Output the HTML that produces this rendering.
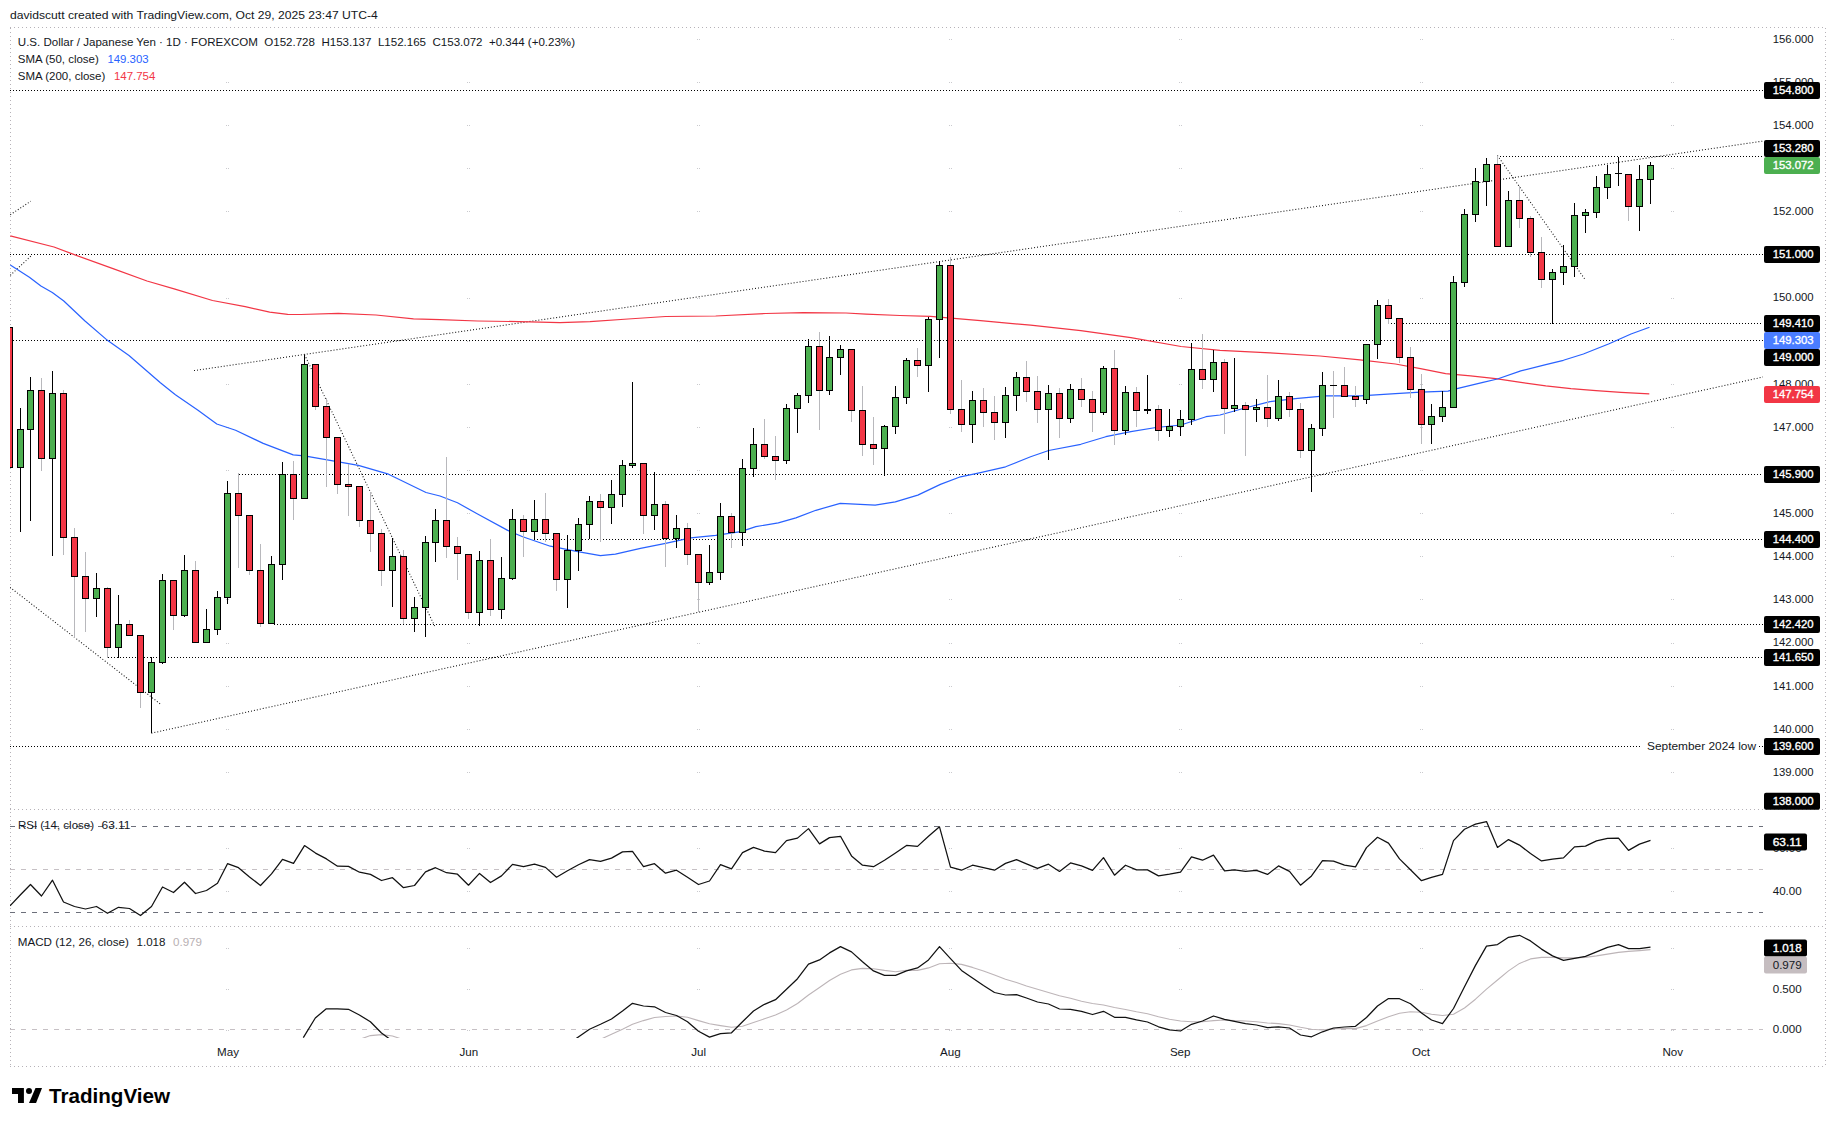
<!DOCTYPE html>
<html><head><meta charset="utf-8"><title>USDJPY chart</title>
<style>html,body{margin:0;padding:0;background:#fff;}body{width:1835px;height:1126px;overflow:hidden;font-family:"Liberation Sans",sans-serif;}</style>
</head><body>
<svg width="1835" height="1126" viewBox="0 0 1835 1126" style="display:block">
<rect width="1835" height="1126" fill="#ffffff"/>
<defs>
<clipPath id="cpMain"><rect x="10" y="28" width="1753" height="781"/></clipPath>
<clipPath id="cpRsi"><rect x="10" y="810" width="1753" height="116"/></clipPath>
<clipPath id="cpMacd"><rect x="10" y="927" width="1753" height="111"/></clipPath>
</defs>
<g fill="none" stroke="#b6b2b8" stroke-width="1" stroke-dasharray="1 3" shape-rendering="crispEdges">
<path d="M10 27.5H1825.5"/>
<path d="M10 1066.5H1825.5"/>
<path d="M10 809.5H1825"/>
<path d="M10 926.5H1825"/>
<path d="M10.5 28V1066.5"/>
<path d="M1825.5 28V1066.5"/>
</g>
<g fill="#cacace" shape-rendering="crispEdges">
<rect x="226" y="772" width="1" height="1"/><rect x="228" y="772" width="1" height="1"/>
<rect x="226" y="729" width="1" height="1"/><rect x="228" y="729" width="1" height="1"/>
<rect x="226" y="686" width="1" height="1"/><rect x="228" y="686" width="1" height="1"/>
<rect x="226" y="643" width="1" height="1"/><rect x="228" y="643" width="1" height="1"/>
<rect x="226" y="599" width="1" height="1"/><rect x="228" y="599" width="1" height="1"/>
<rect x="226" y="556" width="1" height="1"/><rect x="228" y="556" width="1" height="1"/>
<rect x="226" y="513" width="1" height="1"/><rect x="228" y="513" width="1" height="1"/>
<rect x="226" y="470" width="1" height="1"/><rect x="228" y="470" width="1" height="1"/>
<rect x="226" y="427" width="1" height="1"/><rect x="228" y="427" width="1" height="1"/>
<rect x="226" y="384" width="1" height="1"/><rect x="228" y="384" width="1" height="1"/>
<rect x="226" y="341" width="1" height="1"/><rect x="228" y="341" width="1" height="1"/>
<rect x="226" y="298" width="1" height="1"/><rect x="228" y="298" width="1" height="1"/>
<rect x="226" y="254" width="1" height="1"/><rect x="228" y="254" width="1" height="1"/>
<rect x="226" y="211" width="1" height="1"/><rect x="228" y="211" width="1" height="1"/>
<rect x="226" y="168" width="1" height="1"/><rect x="228" y="168" width="1" height="1"/>
<rect x="226" y="125" width="1" height="1"/><rect x="228" y="125" width="1" height="1"/>
<rect x="226" y="82" width="1" height="1"/><rect x="228" y="82" width="1" height="1"/>
<rect x="226" y="39" width="1" height="1"/><rect x="228" y="39" width="1" height="1"/>
<rect x="226" y="848" width="1" height="1"/><rect x="228" y="848" width="1" height="1"/>
<rect x="226" y="891" width="1" height="1"/><rect x="228" y="891" width="1" height="1"/>
<rect x="226" y="948" width="1" height="1"/><rect x="228" y="948" width="1" height="1"/>
<rect x="226" y="989" width="1" height="1"/><rect x="228" y="989" width="1" height="1"/>
<rect x="226" y="1030" width="1" height="1"/><rect x="228" y="1030" width="1" height="1"/>
<rect x="467" y="772" width="1" height="1"/><rect x="469" y="772" width="1" height="1"/>
<rect x="467" y="729" width="1" height="1"/><rect x="469" y="729" width="1" height="1"/>
<rect x="467" y="686" width="1" height="1"/><rect x="469" y="686" width="1" height="1"/>
<rect x="467" y="643" width="1" height="1"/><rect x="469" y="643" width="1" height="1"/>
<rect x="467" y="599" width="1" height="1"/><rect x="469" y="599" width="1" height="1"/>
<rect x="467" y="556" width="1" height="1"/><rect x="469" y="556" width="1" height="1"/>
<rect x="467" y="513" width="1" height="1"/><rect x="469" y="513" width="1" height="1"/>
<rect x="467" y="470" width="1" height="1"/><rect x="469" y="470" width="1" height="1"/>
<rect x="467" y="427" width="1" height="1"/><rect x="469" y="427" width="1" height="1"/>
<rect x="467" y="384" width="1" height="1"/><rect x="469" y="384" width="1" height="1"/>
<rect x="467" y="341" width="1" height="1"/><rect x="469" y="341" width="1" height="1"/>
<rect x="467" y="298" width="1" height="1"/><rect x="469" y="298" width="1" height="1"/>
<rect x="467" y="254" width="1" height="1"/><rect x="469" y="254" width="1" height="1"/>
<rect x="467" y="211" width="1" height="1"/><rect x="469" y="211" width="1" height="1"/>
<rect x="467" y="168" width="1" height="1"/><rect x="469" y="168" width="1" height="1"/>
<rect x="467" y="125" width="1" height="1"/><rect x="469" y="125" width="1" height="1"/>
<rect x="467" y="82" width="1" height="1"/><rect x="469" y="82" width="1" height="1"/>
<rect x="467" y="39" width="1" height="1"/><rect x="469" y="39" width="1" height="1"/>
<rect x="467" y="848" width="1" height="1"/><rect x="469" y="848" width="1" height="1"/>
<rect x="467" y="891" width="1" height="1"/><rect x="469" y="891" width="1" height="1"/>
<rect x="467" y="948" width="1" height="1"/><rect x="469" y="948" width="1" height="1"/>
<rect x="467" y="989" width="1" height="1"/><rect x="469" y="989" width="1" height="1"/>
<rect x="467" y="1030" width="1" height="1"/><rect x="469" y="1030" width="1" height="1"/>
<rect x="697" y="772" width="1" height="1"/><rect x="699" y="772" width="1" height="1"/>
<rect x="697" y="729" width="1" height="1"/><rect x="699" y="729" width="1" height="1"/>
<rect x="697" y="686" width="1" height="1"/><rect x="699" y="686" width="1" height="1"/>
<rect x="697" y="643" width="1" height="1"/><rect x="699" y="643" width="1" height="1"/>
<rect x="697" y="599" width="1" height="1"/><rect x="699" y="599" width="1" height="1"/>
<rect x="697" y="556" width="1" height="1"/><rect x="699" y="556" width="1" height="1"/>
<rect x="697" y="513" width="1" height="1"/><rect x="699" y="513" width="1" height="1"/>
<rect x="697" y="470" width="1" height="1"/><rect x="699" y="470" width="1" height="1"/>
<rect x="697" y="427" width="1" height="1"/><rect x="699" y="427" width="1" height="1"/>
<rect x="697" y="384" width="1" height="1"/><rect x="699" y="384" width="1" height="1"/>
<rect x="697" y="341" width="1" height="1"/><rect x="699" y="341" width="1" height="1"/>
<rect x="697" y="298" width="1" height="1"/><rect x="699" y="298" width="1" height="1"/>
<rect x="697" y="254" width="1" height="1"/><rect x="699" y="254" width="1" height="1"/>
<rect x="697" y="211" width="1" height="1"/><rect x="699" y="211" width="1" height="1"/>
<rect x="697" y="168" width="1" height="1"/><rect x="699" y="168" width="1" height="1"/>
<rect x="697" y="125" width="1" height="1"/><rect x="699" y="125" width="1" height="1"/>
<rect x="697" y="82" width="1" height="1"/><rect x="699" y="82" width="1" height="1"/>
<rect x="697" y="39" width="1" height="1"/><rect x="699" y="39" width="1" height="1"/>
<rect x="697" y="848" width="1" height="1"/><rect x="699" y="848" width="1" height="1"/>
<rect x="697" y="891" width="1" height="1"/><rect x="699" y="891" width="1" height="1"/>
<rect x="697" y="948" width="1" height="1"/><rect x="699" y="948" width="1" height="1"/>
<rect x="697" y="989" width="1" height="1"/><rect x="699" y="989" width="1" height="1"/>
<rect x="697" y="1030" width="1" height="1"/><rect x="699" y="1030" width="1" height="1"/>
<rect x="949" y="772" width="1" height="1"/><rect x="951" y="772" width="1" height="1"/>
<rect x="949" y="729" width="1" height="1"/><rect x="951" y="729" width="1" height="1"/>
<rect x="949" y="686" width="1" height="1"/><rect x="951" y="686" width="1" height="1"/>
<rect x="949" y="643" width="1" height="1"/><rect x="951" y="643" width="1" height="1"/>
<rect x="949" y="599" width="1" height="1"/><rect x="951" y="599" width="1" height="1"/>
<rect x="949" y="556" width="1" height="1"/><rect x="951" y="556" width="1" height="1"/>
<rect x="949" y="513" width="1" height="1"/><rect x="951" y="513" width="1" height="1"/>
<rect x="949" y="470" width="1" height="1"/><rect x="951" y="470" width="1" height="1"/>
<rect x="949" y="427" width="1" height="1"/><rect x="951" y="427" width="1" height="1"/>
<rect x="949" y="384" width="1" height="1"/><rect x="951" y="384" width="1" height="1"/>
<rect x="949" y="341" width="1" height="1"/><rect x="951" y="341" width="1" height="1"/>
<rect x="949" y="298" width="1" height="1"/><rect x="951" y="298" width="1" height="1"/>
<rect x="949" y="254" width="1" height="1"/><rect x="951" y="254" width="1" height="1"/>
<rect x="949" y="211" width="1" height="1"/><rect x="951" y="211" width="1" height="1"/>
<rect x="949" y="168" width="1" height="1"/><rect x="951" y="168" width="1" height="1"/>
<rect x="949" y="125" width="1" height="1"/><rect x="951" y="125" width="1" height="1"/>
<rect x="949" y="82" width="1" height="1"/><rect x="951" y="82" width="1" height="1"/>
<rect x="949" y="39" width="1" height="1"/><rect x="951" y="39" width="1" height="1"/>
<rect x="949" y="848" width="1" height="1"/><rect x="951" y="848" width="1" height="1"/>
<rect x="949" y="891" width="1" height="1"/><rect x="951" y="891" width="1" height="1"/>
<rect x="949" y="948" width="1" height="1"/><rect x="951" y="948" width="1" height="1"/>
<rect x="949" y="989" width="1" height="1"/><rect x="951" y="989" width="1" height="1"/>
<rect x="949" y="1030" width="1" height="1"/><rect x="951" y="1030" width="1" height="1"/>
<rect x="1179" y="772" width="1" height="1"/><rect x="1181" y="772" width="1" height="1"/>
<rect x="1179" y="729" width="1" height="1"/><rect x="1181" y="729" width="1" height="1"/>
<rect x="1179" y="686" width="1" height="1"/><rect x="1181" y="686" width="1" height="1"/>
<rect x="1179" y="643" width="1" height="1"/><rect x="1181" y="643" width="1" height="1"/>
<rect x="1179" y="599" width="1" height="1"/><rect x="1181" y="599" width="1" height="1"/>
<rect x="1179" y="556" width="1" height="1"/><rect x="1181" y="556" width="1" height="1"/>
<rect x="1179" y="513" width="1" height="1"/><rect x="1181" y="513" width="1" height="1"/>
<rect x="1179" y="470" width="1" height="1"/><rect x="1181" y="470" width="1" height="1"/>
<rect x="1179" y="427" width="1" height="1"/><rect x="1181" y="427" width="1" height="1"/>
<rect x="1179" y="384" width="1" height="1"/><rect x="1181" y="384" width="1" height="1"/>
<rect x="1179" y="341" width="1" height="1"/><rect x="1181" y="341" width="1" height="1"/>
<rect x="1179" y="298" width="1" height="1"/><rect x="1181" y="298" width="1" height="1"/>
<rect x="1179" y="254" width="1" height="1"/><rect x="1181" y="254" width="1" height="1"/>
<rect x="1179" y="211" width="1" height="1"/><rect x="1181" y="211" width="1" height="1"/>
<rect x="1179" y="168" width="1" height="1"/><rect x="1181" y="168" width="1" height="1"/>
<rect x="1179" y="125" width="1" height="1"/><rect x="1181" y="125" width="1" height="1"/>
<rect x="1179" y="82" width="1" height="1"/><rect x="1181" y="82" width="1" height="1"/>
<rect x="1179" y="39" width="1" height="1"/><rect x="1181" y="39" width="1" height="1"/>
<rect x="1179" y="848" width="1" height="1"/><rect x="1181" y="848" width="1" height="1"/>
<rect x="1179" y="891" width="1" height="1"/><rect x="1181" y="891" width="1" height="1"/>
<rect x="1179" y="948" width="1" height="1"/><rect x="1181" y="948" width="1" height="1"/>
<rect x="1179" y="989" width="1" height="1"/><rect x="1181" y="989" width="1" height="1"/>
<rect x="1179" y="1030" width="1" height="1"/><rect x="1181" y="1030" width="1" height="1"/>
<rect x="1420" y="772" width="1" height="1"/><rect x="1422" y="772" width="1" height="1"/>
<rect x="1420" y="729" width="1" height="1"/><rect x="1422" y="729" width="1" height="1"/>
<rect x="1420" y="686" width="1" height="1"/><rect x="1422" y="686" width="1" height="1"/>
<rect x="1420" y="643" width="1" height="1"/><rect x="1422" y="643" width="1" height="1"/>
<rect x="1420" y="599" width="1" height="1"/><rect x="1422" y="599" width="1" height="1"/>
<rect x="1420" y="556" width="1" height="1"/><rect x="1422" y="556" width="1" height="1"/>
<rect x="1420" y="513" width="1" height="1"/><rect x="1422" y="513" width="1" height="1"/>
<rect x="1420" y="470" width="1" height="1"/><rect x="1422" y="470" width="1" height="1"/>
<rect x="1420" y="427" width="1" height="1"/><rect x="1422" y="427" width="1" height="1"/>
<rect x="1420" y="384" width="1" height="1"/><rect x="1422" y="384" width="1" height="1"/>
<rect x="1420" y="341" width="1" height="1"/><rect x="1422" y="341" width="1" height="1"/>
<rect x="1420" y="298" width="1" height="1"/><rect x="1422" y="298" width="1" height="1"/>
<rect x="1420" y="254" width="1" height="1"/><rect x="1422" y="254" width="1" height="1"/>
<rect x="1420" y="211" width="1" height="1"/><rect x="1422" y="211" width="1" height="1"/>
<rect x="1420" y="168" width="1" height="1"/><rect x="1422" y="168" width="1" height="1"/>
<rect x="1420" y="125" width="1" height="1"/><rect x="1422" y="125" width="1" height="1"/>
<rect x="1420" y="82" width="1" height="1"/><rect x="1422" y="82" width="1" height="1"/>
<rect x="1420" y="39" width="1" height="1"/><rect x="1422" y="39" width="1" height="1"/>
<rect x="1420" y="848" width="1" height="1"/><rect x="1422" y="848" width="1" height="1"/>
<rect x="1420" y="891" width="1" height="1"/><rect x="1422" y="891" width="1" height="1"/>
<rect x="1420" y="948" width="1" height="1"/><rect x="1422" y="948" width="1" height="1"/>
<rect x="1420" y="989" width="1" height="1"/><rect x="1422" y="989" width="1" height="1"/>
<rect x="1420" y="1030" width="1" height="1"/><rect x="1422" y="1030" width="1" height="1"/>
<rect x="1671" y="772" width="1" height="1"/><rect x="1673" y="772" width="1" height="1"/>
<rect x="1671" y="729" width="1" height="1"/><rect x="1673" y="729" width="1" height="1"/>
<rect x="1671" y="686" width="1" height="1"/><rect x="1673" y="686" width="1" height="1"/>
<rect x="1671" y="643" width="1" height="1"/><rect x="1673" y="643" width="1" height="1"/>
<rect x="1671" y="599" width="1" height="1"/><rect x="1673" y="599" width="1" height="1"/>
<rect x="1671" y="556" width="1" height="1"/><rect x="1673" y="556" width="1" height="1"/>
<rect x="1671" y="513" width="1" height="1"/><rect x="1673" y="513" width="1" height="1"/>
<rect x="1671" y="470" width="1" height="1"/><rect x="1673" y="470" width="1" height="1"/>
<rect x="1671" y="427" width="1" height="1"/><rect x="1673" y="427" width="1" height="1"/>
<rect x="1671" y="384" width="1" height="1"/><rect x="1673" y="384" width="1" height="1"/>
<rect x="1671" y="341" width="1" height="1"/><rect x="1673" y="341" width="1" height="1"/>
<rect x="1671" y="298" width="1" height="1"/><rect x="1673" y="298" width="1" height="1"/>
<rect x="1671" y="254" width="1" height="1"/><rect x="1673" y="254" width="1" height="1"/>
<rect x="1671" y="211" width="1" height="1"/><rect x="1673" y="211" width="1" height="1"/>
<rect x="1671" y="168" width="1" height="1"/><rect x="1673" y="168" width="1" height="1"/>
<rect x="1671" y="125" width="1" height="1"/><rect x="1673" y="125" width="1" height="1"/>
<rect x="1671" y="82" width="1" height="1"/><rect x="1673" y="82" width="1" height="1"/>
<rect x="1671" y="39" width="1" height="1"/><rect x="1673" y="39" width="1" height="1"/>
<rect x="1671" y="848" width="1" height="1"/><rect x="1673" y="848" width="1" height="1"/>
<rect x="1671" y="891" width="1" height="1"/><rect x="1673" y="891" width="1" height="1"/>
<rect x="1671" y="948" width="1" height="1"/><rect x="1673" y="948" width="1" height="1"/>
<rect x="1671" y="989" width="1" height="1"/><rect x="1673" y="989" width="1" height="1"/>
<rect x="1671" y="1030" width="1" height="1"/><rect x="1673" y="1030" width="1" height="1"/>
</g>
<g clip-path="url(#cpMain)">
<g fill="none" stroke="#000" stroke-width="1" stroke-dasharray="1 2" shape-rendering="crispEdges">
<path d="M10 90.5H1763"/>
<path d="M1497 156.5H1763"/>
<path d="M10 254.5H1763"/>
<path d="M1388 323.5H1763"/>
<path d="M10 340.5H1763"/>
<path d="M239 474.5H1763"/>
<path d="M534 539.5H1763"/>
<path d="M274 624.5H1763"/>
<path d="M108 657.5H1763"/>
<path d="M10 746.5H1642"/>
<path d="M1759 746.5H1763"/>
</g>
<g fill="none" stroke="#111" stroke-width="1.05" stroke-dasharray="1 2">
<path d="M194 370.6L1763 141.1"/>
<path d="M151.4 733.2L1763 377.0"/>
<path d="M10 587.3L161.6 705"/>
<path d="M304.5 354.6L435.3 627.4"/>
<path d="M1497.4 155.5L1584.7 279"/>
<path d="M10.3 214.7L30.7 201.3"/>
<path d="M10.3 275.3L31 256"/>
</g>
<path d="M10.3 235.9L54.0 247.0L73.6 254.4L114.4 269.1L147.0 281.0L175.0 289.2L212.5 300.5L245.2 306.7L269.7 312.1L287.7 314.4L300.8 314.5L338.3 313.3L376.0 315.0L413.5 318.8L440.0 319.7L477.6 321.0L530.0 321.8L560.0 322.7L590.0 321.7L628.0 319.0L665.6 316.5L715.7 316.0L765.8 313.5L803.4 312.7L846.0 313.0L866.0 314.2L900.0 315.5L930.4 316.4L980.5 320.7L1030.6 325.2L1080.8 330.7L1130.9 337.7L1181.0 346.5L1220.0 350.3L1270.0 352.8L1320.0 356.0L1360.0 359.8L1395.4 364.0L1420.5 368.6L1445.6 373.6L1470.6 375.9L1495.7 378.6L1520.8 382.4L1545.8 385.9L1570.9 388.6L1596.0 390.6L1621.0 392.4L1649.3 393.9" fill="none" stroke="#f23645" stroke-width="1.2" stroke-linejoin="round"/>
<path d="M10.3 265.0L29.4 277.3L40.9 286.0L52.3 292.5L63.8 301.0L85.0 321.0L106.3 339.4L129.0 355.5L160.4 382.7L175.4 394.7L198.0 410.3L216.8 424.0L235.6 430.3L263.2 443.4L293.2 454.9L304.3 455.9L325.8 459.6L358.4 465.4L388.5 474.2L426.0 492.5L440.0 496.0L457.5 502.8L477.6 514.0L507.7 530.4L522.7 536.7L550.3 546.2L577.8 551.7L600.4 555.7L615.4 554.2L640.5 548.4L665.6 543.4L690.6 537.9L715.7 535.4L740.8 531.6L755.8 526.6L778.3 522.9L795.9 517.9L815.9 510.3L840.2 503.4L875.2 505.2L895.3 501.9L917.8 495.1L940.4 484.4L960.5 476.8L980.5 472.6L1005.6 466.8L1030.6 456.8L1048.7 450.5L1080.8 444.3L1105.8 436.7L1130.9 431.7L1156.0 427.5L1181.0 425.0L1206.0 416.7L1220.0 415.0L1245.0 408.0L1270.0 401.7L1295.2 398.7L1325.3 395.9L1360.4 395.9L1395.4 393.7L1420.5 392.2L1448.0 391.2L1458.0 388.4L1483.0 382.4L1497.4 379.0L1520.8 370.9L1545.8 364.6L1563.4 360.3L1583.4 354.0L1608.5 344.0L1631.0 334.0L1649.5 327.2" fill="none" stroke="#2962ff" stroke-width="1.2" stroke-linejoin="round"/>
<g shape-rendering="crispEdges">
<rect x="6" y="327" width="7" height="141" fill="#000"/>
<rect x="7" y="328" width="5" height="139" fill="#f23645"/>
<rect x="20" y="408" width="1" height="21" fill="#000"/>
<rect x="20" y="467" width="1" height="65" fill="#000"/>
<rect x="17" y="429" width="7" height="39" fill="#000"/>
<rect x="18" y="430" width="5" height="37" fill="#4caf50"/>
<rect x="30" y="377" width="1" height="13" fill="#000"/>
<rect x="30" y="429" width="1" height="92" fill="#000"/>
<rect x="27" y="390" width="7" height="40" fill="#000"/>
<rect x="28" y="391" width="5" height="38" fill="#4caf50"/>
<rect x="41" y="378" width="1" height="12" fill="#b8b8bc"/>
<rect x="41" y="458" width="1" height="13" fill="#b8b8bc"/>
<rect x="38" y="390" width="7" height="69" fill="#000"/>
<rect x="39" y="391" width="5" height="67" fill="#f23645"/>
<rect x="52" y="371" width="1" height="22" fill="#000"/>
<rect x="52" y="458" width="1" height="98" fill="#000"/>
<rect x="49" y="393" width="7" height="66" fill="#000"/>
<rect x="50" y="394" width="5" height="64" fill="#4caf50"/>
<rect x="63" y="390" width="1" height="3" fill="#b8b8bc"/>
<rect x="63" y="537" width="1" height="18" fill="#b8b8bc"/>
<rect x="60" y="393" width="7" height="145" fill="#000"/>
<rect x="61" y="394" width="5" height="143" fill="#f23645"/>
<rect x="74" y="528" width="1" height="9" fill="#b8b8bc"/>
<rect x="74" y="576" width="1" height="62" fill="#b8b8bc"/>
<rect x="71" y="537" width="7" height="40" fill="#000"/>
<rect x="72" y="538" width="5" height="38" fill="#f23645"/>
<rect x="85" y="552" width="1" height="24" fill="#b8b8bc"/>
<rect x="85" y="598" width="1" height="34" fill="#b8b8bc"/>
<rect x="82" y="576" width="7" height="23" fill="#000"/>
<rect x="83" y="577" width="5" height="21" fill="#f23645"/>
<rect x="96" y="573" width="1" height="15" fill="#000"/>
<rect x="96" y="598" width="1" height="19" fill="#000"/>
<rect x="93" y="588" width="7" height="11" fill="#000"/>
<rect x="94" y="589" width="5" height="9" fill="#4caf50"/>
<rect x="107" y="587" width="1" height="1" fill="#b8b8bc"/>
<rect x="107" y="647" width="1" height="11" fill="#b8b8bc"/>
<rect x="104" y="588" width="7" height="60" fill="#000"/>
<rect x="105" y="589" width="5" height="58" fill="#f23645"/>
<rect x="118" y="595" width="1" height="29" fill="#000"/>
<rect x="118" y="647" width="1" height="11" fill="#000"/>
<rect x="115" y="624" width="7" height="24" fill="#000"/>
<rect x="116" y="625" width="5" height="22" fill="#4caf50"/>
<rect x="129" y="620" width="1" height="4" fill="#b8b8bc"/>
<rect x="126" y="624" width="7" height="12" fill="#000"/>
<rect x="127" y="625" width="5" height="10" fill="#f23645"/>
<rect x="140" y="692" width="1" height="16" fill="#b8b8bc"/>
<rect x="137" y="635" width="7" height="58" fill="#000"/>
<rect x="138" y="636" width="5" height="56" fill="#f23645"/>
<rect x="151" y="657" width="1" height="5" fill="#000"/>
<rect x="151" y="692" width="1" height="41" fill="#000"/>
<rect x="148" y="662" width="7" height="31" fill="#000"/>
<rect x="149" y="663" width="5" height="29" fill="#4caf50"/>
<rect x="162" y="574" width="1" height="6" fill="#000"/>
<rect x="162" y="662" width="1" height="2" fill="#000"/>
<rect x="159" y="580" width="7" height="83" fill="#000"/>
<rect x="160" y="581" width="5" height="81" fill="#4caf50"/>
<rect x="173" y="615" width="1" height="15" fill="#b8b8bc"/>
<rect x="170" y="580" width="7" height="36" fill="#000"/>
<rect x="171" y="581" width="5" height="34" fill="#f23645"/>
<rect x="184" y="555" width="1" height="15" fill="#000"/>
<rect x="184" y="615" width="1" height="2" fill="#000"/>
<rect x="181" y="570" width="7" height="46" fill="#000"/>
<rect x="182" y="571" width="5" height="44" fill="#4caf50"/>
<rect x="195" y="561" width="1" height="9" fill="#b8b8bc"/>
<rect x="192" y="570" width="7" height="73" fill="#000"/>
<rect x="193" y="571" width="5" height="71" fill="#f23645"/>
<rect x="206" y="609" width="1" height="20" fill="#000"/>
<rect x="206" y="642" width="1" height="1" fill="#000"/>
<rect x="203" y="629" width="7" height="14" fill="#000"/>
<rect x="204" y="630" width="5" height="12" fill="#4caf50"/>
<rect x="217" y="591" width="1" height="6" fill="#000"/>
<rect x="217" y="629" width="1" height="6" fill="#000"/>
<rect x="214" y="597" width="7" height="33" fill="#000"/>
<rect x="215" y="598" width="5" height="31" fill="#4caf50"/>
<rect x="227" y="481" width="1" height="12" fill="#000"/>
<rect x="227" y="597" width="1" height="7" fill="#000"/>
<rect x="224" y="493" width="7" height="105" fill="#000"/>
<rect x="225" y="494" width="5" height="103" fill="#4caf50"/>
<rect x="238" y="473" width="1" height="20" fill="#b8b8bc"/>
<rect x="238" y="515" width="1" height="53" fill="#b8b8bc"/>
<rect x="235" y="493" width="7" height="23" fill="#000"/>
<rect x="236" y="494" width="5" height="21" fill="#f23645"/>
<rect x="249" y="570" width="1" height="5" fill="#b8b8bc"/>
<rect x="246" y="515" width="7" height="56" fill="#000"/>
<rect x="247" y="516" width="5" height="54" fill="#f23645"/>
<rect x="260" y="544" width="1" height="26" fill="#b8b8bc"/>
<rect x="260" y="623" width="1" height="4" fill="#b8b8bc"/>
<rect x="257" y="570" width="7" height="54" fill="#000"/>
<rect x="258" y="571" width="5" height="52" fill="#f23645"/>
<rect x="271" y="556" width="1" height="8" fill="#000"/>
<rect x="268" y="564" width="7" height="60" fill="#000"/>
<rect x="269" y="565" width="5" height="58" fill="#4caf50"/>
<rect x="282" y="462" width="1" height="12" fill="#000"/>
<rect x="282" y="564" width="1" height="16" fill="#000"/>
<rect x="279" y="474" width="7" height="91" fill="#000"/>
<rect x="280" y="475" width="5" height="89" fill="#4caf50"/>
<rect x="293" y="461" width="1" height="13" fill="#b8b8bc"/>
<rect x="293" y="498" width="1" height="22" fill="#b8b8bc"/>
<rect x="290" y="474" width="7" height="25" fill="#000"/>
<rect x="291" y="475" width="5" height="23" fill="#f23645"/>
<rect x="304" y="355" width="1" height="9" fill="#000"/>
<rect x="301" y="364" width="7" height="135" fill="#000"/>
<rect x="302" y="365" width="5" height="133" fill="#4caf50"/>
<rect x="315" y="406" width="1" height="4" fill="#b8b8bc"/>
<rect x="312" y="364" width="7" height="43" fill="#000"/>
<rect x="313" y="365" width="5" height="41" fill="#f23645"/>
<rect x="326" y="398" width="1" height="8" fill="#b8b8bc"/>
<rect x="326" y="437" width="1" height="50" fill="#b8b8bc"/>
<rect x="323" y="406" width="7" height="32" fill="#000"/>
<rect x="324" y="407" width="5" height="30" fill="#f23645"/>
<rect x="337" y="484" width="1" height="10" fill="#b8b8bc"/>
<rect x="334" y="437" width="7" height="48" fill="#000"/>
<rect x="335" y="438" width="5" height="46" fill="#f23645"/>
<rect x="348" y="464" width="1" height="20" fill="#b8b8bc"/>
<rect x="348" y="486" width="1" height="30" fill="#b8b8bc"/>
<rect x="345" y="484" width="7" height="3" fill="#000"/>
<rect x="346" y="485" width="5" height="1" fill="#f23645"/>
<rect x="359" y="520" width="1" height="7" fill="#b8b8bc"/>
<rect x="356" y="486" width="7" height="35" fill="#000"/>
<rect x="357" y="487" width="5" height="33" fill="#f23645"/>
<rect x="370" y="492" width="1" height="28" fill="#b8b8bc"/>
<rect x="370" y="533" width="1" height="19" fill="#b8b8bc"/>
<rect x="367" y="520" width="7" height="14" fill="#000"/>
<rect x="368" y="521" width="5" height="12" fill="#f23645"/>
<rect x="381" y="529" width="1" height="4" fill="#b8b8bc"/>
<rect x="381" y="570" width="1" height="16" fill="#b8b8bc"/>
<rect x="378" y="533" width="7" height="38" fill="#000"/>
<rect x="379" y="534" width="5" height="36" fill="#f23645"/>
<rect x="392" y="538" width="1" height="18" fill="#000"/>
<rect x="392" y="570" width="1" height="37" fill="#000"/>
<rect x="389" y="556" width="7" height="15" fill="#000"/>
<rect x="390" y="557" width="5" height="13" fill="#4caf50"/>
<rect x="403" y="550" width="1" height="6" fill="#b8b8bc"/>
<rect x="403" y="618" width="1" height="6" fill="#b8b8bc"/>
<rect x="400" y="556" width="7" height="63" fill="#000"/>
<rect x="401" y="557" width="5" height="61" fill="#f23645"/>
<rect x="414" y="597" width="1" height="10" fill="#000"/>
<rect x="414" y="618" width="1" height="14" fill="#000"/>
<rect x="411" y="607" width="7" height="12" fill="#000"/>
<rect x="412" y="608" width="5" height="10" fill="#4caf50"/>
<rect x="425" y="536" width="1" height="6" fill="#000"/>
<rect x="425" y="607" width="1" height="30" fill="#000"/>
<rect x="422" y="542" width="7" height="66" fill="#000"/>
<rect x="423" y="543" width="5" height="64" fill="#4caf50"/>
<rect x="435" y="509" width="1" height="11" fill="#000"/>
<rect x="435" y="542" width="1" height="20" fill="#000"/>
<rect x="432" y="520" width="7" height="23" fill="#000"/>
<rect x="433" y="521" width="5" height="21" fill="#4caf50"/>
<rect x="446" y="457" width="1" height="63" fill="#b8b8bc"/>
<rect x="446" y="546" width="1" height="12" fill="#b8b8bc"/>
<rect x="443" y="520" width="7" height="27" fill="#000"/>
<rect x="444" y="521" width="5" height="25" fill="#f23645"/>
<rect x="457" y="537" width="1" height="9" fill="#b8b8bc"/>
<rect x="457" y="553" width="1" height="27" fill="#b8b8bc"/>
<rect x="454" y="546" width="7" height="8" fill="#000"/>
<rect x="455" y="547" width="5" height="6" fill="#f23645"/>
<rect x="468" y="612" width="1" height="7" fill="#b8b8bc"/>
<rect x="465" y="554" width="7" height="59" fill="#000"/>
<rect x="466" y="555" width="5" height="57" fill="#f23645"/>
<rect x="479" y="551" width="1" height="9" fill="#000"/>
<rect x="479" y="612" width="1" height="14" fill="#000"/>
<rect x="476" y="560" width="7" height="53" fill="#000"/>
<rect x="477" y="561" width="5" height="51" fill="#4caf50"/>
<rect x="490" y="539" width="1" height="21" fill="#b8b8bc"/>
<rect x="490" y="609" width="1" height="7" fill="#b8b8bc"/>
<rect x="487" y="560" width="7" height="50" fill="#000"/>
<rect x="488" y="561" width="5" height="48" fill="#f23645"/>
<rect x="501" y="557" width="1" height="21" fill="#000"/>
<rect x="501" y="609" width="1" height="10" fill="#000"/>
<rect x="498" y="578" width="7" height="32" fill="#000"/>
<rect x="499" y="579" width="5" height="30" fill="#4caf50"/>
<rect x="512" y="509" width="1" height="10" fill="#000"/>
<rect x="512" y="578" width="1" height="2" fill="#000"/>
<rect x="509" y="519" width="7" height="60" fill="#000"/>
<rect x="510" y="520" width="5" height="58" fill="#4caf50"/>
<rect x="523" y="515" width="1" height="4" fill="#b8b8bc"/>
<rect x="523" y="531" width="1" height="26" fill="#b8b8bc"/>
<rect x="520" y="519" width="7" height="13" fill="#000"/>
<rect x="521" y="520" width="5" height="11" fill="#f23645"/>
<rect x="534" y="500" width="1" height="19" fill="#000"/>
<rect x="534" y="531" width="1" height="9" fill="#000"/>
<rect x="531" y="519" width="7" height="13" fill="#000"/>
<rect x="532" y="520" width="5" height="11" fill="#4caf50"/>
<rect x="545" y="493" width="1" height="26" fill="#b8b8bc"/>
<rect x="545" y="533" width="1" height="9" fill="#b8b8bc"/>
<rect x="542" y="519" width="7" height="15" fill="#000"/>
<rect x="543" y="520" width="5" height="13" fill="#f23645"/>
<rect x="556" y="579" width="1" height="12" fill="#b8b8bc"/>
<rect x="553" y="533" width="7" height="47" fill="#000"/>
<rect x="554" y="534" width="5" height="45" fill="#f23645"/>
<rect x="567" y="535" width="1" height="15" fill="#000"/>
<rect x="567" y="579" width="1" height="29" fill="#000"/>
<rect x="564" y="550" width="7" height="30" fill="#000"/>
<rect x="565" y="551" width="5" height="28" fill="#4caf50"/>
<rect x="578" y="518" width="1" height="6" fill="#000"/>
<rect x="578" y="550" width="1" height="21" fill="#000"/>
<rect x="575" y="524" width="7" height="27" fill="#000"/>
<rect x="576" y="525" width="5" height="25" fill="#4caf50"/>
<rect x="589" y="496" width="1" height="5" fill="#000"/>
<rect x="589" y="524" width="1" height="15" fill="#000"/>
<rect x="586" y="501" width="7" height="24" fill="#000"/>
<rect x="587" y="502" width="5" height="22" fill="#4caf50"/>
<rect x="600" y="494" width="1" height="7" fill="#b8b8bc"/>
<rect x="600" y="507" width="1" height="35" fill="#b8b8bc"/>
<rect x="597" y="501" width="7" height="7" fill="#000"/>
<rect x="598" y="502" width="5" height="5" fill="#f23645"/>
<rect x="611" y="480" width="1" height="14" fill="#000"/>
<rect x="611" y="507" width="1" height="17" fill="#000"/>
<rect x="608" y="494" width="7" height="14" fill="#000"/>
<rect x="609" y="495" width="5" height="12" fill="#4caf50"/>
<rect x="622" y="460" width="1" height="5" fill="#000"/>
<rect x="622" y="494" width="1" height="13" fill="#000"/>
<rect x="619" y="465" width="7" height="30" fill="#000"/>
<rect x="620" y="466" width="5" height="28" fill="#4caf50"/>
<rect x="632" y="382" width="1" height="81" fill="#000"/>
<rect x="632" y="465" width="1" height="3" fill="#000"/>
<rect x="629" y="463" width="7" height="3" fill="#000"/>
<rect x="630" y="464" width="5" height="1" fill="#4caf50"/>
<rect x="643" y="515" width="1" height="19" fill="#b8b8bc"/>
<rect x="640" y="463" width="7" height="53" fill="#000"/>
<rect x="641" y="464" width="5" height="51" fill="#f23645"/>
<rect x="654" y="472" width="1" height="32" fill="#000"/>
<rect x="654" y="515" width="1" height="15" fill="#000"/>
<rect x="651" y="504" width="7" height="12" fill="#000"/>
<rect x="652" y="505" width="5" height="10" fill="#4caf50"/>
<rect x="665" y="501" width="1" height="3" fill="#b8b8bc"/>
<rect x="665" y="538" width="1" height="29" fill="#b8b8bc"/>
<rect x="662" y="504" width="7" height="35" fill="#000"/>
<rect x="663" y="505" width="5" height="33" fill="#f23645"/>
<rect x="676" y="515" width="1" height="13" fill="#000"/>
<rect x="676" y="538" width="1" height="10" fill="#000"/>
<rect x="673" y="528" width="7" height="11" fill="#000"/>
<rect x="674" y="529" width="5" height="9" fill="#4caf50"/>
<rect x="687" y="523" width="1" height="5" fill="#b8b8bc"/>
<rect x="687" y="554" width="1" height="11" fill="#b8b8bc"/>
<rect x="684" y="528" width="7" height="27" fill="#000"/>
<rect x="685" y="529" width="5" height="25" fill="#f23645"/>
<rect x="698" y="582" width="1" height="30" fill="#b8b8bc"/>
<rect x="695" y="554" width="7" height="29" fill="#000"/>
<rect x="696" y="555" width="5" height="27" fill="#f23645"/>
<rect x="709" y="545" width="1" height="27" fill="#000"/>
<rect x="709" y="582" width="1" height="3" fill="#000"/>
<rect x="706" y="572" width="7" height="11" fill="#000"/>
<rect x="707" y="573" width="5" height="9" fill="#4caf50"/>
<rect x="720" y="503" width="1" height="13" fill="#000"/>
<rect x="720" y="572" width="1" height="8" fill="#000"/>
<rect x="717" y="516" width="7" height="57" fill="#000"/>
<rect x="718" y="517" width="5" height="55" fill="#4caf50"/>
<rect x="731" y="513" width="1" height="3" fill="#b8b8bc"/>
<rect x="731" y="532" width="1" height="16" fill="#b8b8bc"/>
<rect x="728" y="516" width="7" height="17" fill="#000"/>
<rect x="729" y="517" width="5" height="15" fill="#f23645"/>
<rect x="742" y="459" width="1" height="9" fill="#000"/>
<rect x="742" y="532" width="1" height="14" fill="#000"/>
<rect x="739" y="468" width="7" height="65" fill="#000"/>
<rect x="740" y="469" width="5" height="63" fill="#4caf50"/>
<rect x="753" y="428" width="1" height="16" fill="#000"/>
<rect x="753" y="468" width="1" height="9" fill="#000"/>
<rect x="750" y="444" width="7" height="25" fill="#000"/>
<rect x="751" y="445" width="5" height="23" fill="#4caf50"/>
<rect x="764" y="419" width="1" height="25" fill="#b8b8bc"/>
<rect x="764" y="456" width="1" height="3" fill="#b8b8bc"/>
<rect x="761" y="444" width="7" height="13" fill="#000"/>
<rect x="762" y="445" width="5" height="11" fill="#f23645"/>
<rect x="775" y="436" width="1" height="20" fill="#b8b8bc"/>
<rect x="775" y="460" width="1" height="20" fill="#b8b8bc"/>
<rect x="772" y="456" width="7" height="5" fill="#000"/>
<rect x="773" y="457" width="5" height="3" fill="#f23645"/>
<rect x="786" y="404" width="1" height="4" fill="#000"/>
<rect x="786" y="460" width="1" height="4" fill="#000"/>
<rect x="783" y="408" width="7" height="53" fill="#000"/>
<rect x="784" y="409" width="5" height="51" fill="#4caf50"/>
<rect x="797" y="393" width="1" height="2" fill="#000"/>
<rect x="797" y="408" width="1" height="25" fill="#000"/>
<rect x="794" y="395" width="7" height="14" fill="#000"/>
<rect x="795" y="396" width="5" height="12" fill="#4caf50"/>
<rect x="808" y="339" width="1" height="7" fill="#000"/>
<rect x="808" y="395" width="1" height="8" fill="#000"/>
<rect x="805" y="346" width="7" height="50" fill="#000"/>
<rect x="806" y="347" width="5" height="48" fill="#4caf50"/>
<rect x="819" y="332" width="1" height="14" fill="#b8b8bc"/>
<rect x="819" y="390" width="1" height="40" fill="#b8b8bc"/>
<rect x="816" y="346" width="7" height="45" fill="#000"/>
<rect x="817" y="347" width="5" height="43" fill="#f23645"/>
<rect x="829" y="336" width="1" height="21" fill="#000"/>
<rect x="829" y="390" width="1" height="5" fill="#000"/>
<rect x="826" y="357" width="7" height="34" fill="#000"/>
<rect x="827" y="358" width="5" height="32" fill="#4caf50"/>
<rect x="840" y="345" width="1" height="4" fill="#000"/>
<rect x="840" y="357" width="1" height="18" fill="#000"/>
<rect x="837" y="349" width="7" height="9" fill="#000"/>
<rect x="838" y="350" width="5" height="7" fill="#4caf50"/>
<rect x="851" y="410" width="1" height="12" fill="#b8b8bc"/>
<rect x="848" y="349" width="7" height="62" fill="#000"/>
<rect x="849" y="350" width="5" height="60" fill="#f23645"/>
<rect x="862" y="386" width="1" height="24" fill="#b8b8bc"/>
<rect x="862" y="444" width="1" height="12" fill="#b8b8bc"/>
<rect x="859" y="410" width="7" height="35" fill="#000"/>
<rect x="860" y="411" width="5" height="33" fill="#f23645"/>
<rect x="873" y="417" width="1" height="27" fill="#b8b8bc"/>
<rect x="873" y="448" width="1" height="17" fill="#b8b8bc"/>
<rect x="870" y="444" width="7" height="5" fill="#000"/>
<rect x="871" y="445" width="5" height="3" fill="#f23645"/>
<rect x="884" y="425" width="1" height="1" fill="#000"/>
<rect x="884" y="448" width="1" height="28" fill="#000"/>
<rect x="881" y="426" width="7" height="23" fill="#000"/>
<rect x="882" y="427" width="5" height="21" fill="#4caf50"/>
<rect x="895" y="386" width="1" height="11" fill="#000"/>
<rect x="895" y="426" width="1" height="8" fill="#000"/>
<rect x="892" y="397" width="7" height="30" fill="#000"/>
<rect x="893" y="398" width="5" height="28" fill="#4caf50"/>
<rect x="906" y="358" width="1" height="2" fill="#000"/>
<rect x="906" y="397" width="1" height="7" fill="#000"/>
<rect x="903" y="360" width="7" height="38" fill="#000"/>
<rect x="904" y="361" width="5" height="36" fill="#4caf50"/>
<rect x="917" y="348" width="1" height="12" fill="#b8b8bc"/>
<rect x="917" y="365" width="1" height="12" fill="#b8b8bc"/>
<rect x="914" y="360" width="7" height="6" fill="#000"/>
<rect x="915" y="361" width="5" height="4" fill="#f23645"/>
<rect x="928" y="317" width="1" height="2" fill="#000"/>
<rect x="928" y="365" width="1" height="27" fill="#000"/>
<rect x="925" y="319" width="7" height="47" fill="#000"/>
<rect x="926" y="320" width="5" height="45" fill="#4caf50"/>
<rect x="939" y="261" width="1" height="4" fill="#000"/>
<rect x="939" y="319" width="1" height="39" fill="#000"/>
<rect x="936" y="265" width="7" height="55" fill="#000"/>
<rect x="937" y="266" width="5" height="53" fill="#4caf50"/>
<rect x="950" y="257" width="1" height="8" fill="#b8b8bc"/>
<rect x="950" y="409" width="1" height="5" fill="#b8b8bc"/>
<rect x="947" y="265" width="7" height="145" fill="#000"/>
<rect x="948" y="266" width="5" height="143" fill="#f23645"/>
<rect x="961" y="380" width="1" height="29" fill="#b8b8bc"/>
<rect x="961" y="424" width="1" height="8" fill="#b8b8bc"/>
<rect x="958" y="409" width="7" height="16" fill="#000"/>
<rect x="959" y="410" width="5" height="14" fill="#f23645"/>
<rect x="972" y="391" width="1" height="9" fill="#000"/>
<rect x="972" y="424" width="1" height="19" fill="#000"/>
<rect x="969" y="400" width="7" height="25" fill="#000"/>
<rect x="970" y="401" width="5" height="23" fill="#4caf50"/>
<rect x="983" y="388" width="1" height="12" fill="#b8b8bc"/>
<rect x="983" y="412" width="1" height="15" fill="#b8b8bc"/>
<rect x="980" y="400" width="7" height="13" fill="#000"/>
<rect x="981" y="401" width="5" height="11" fill="#f23645"/>
<rect x="994" y="396" width="1" height="16" fill="#b8b8bc"/>
<rect x="994" y="422" width="1" height="18" fill="#b8b8bc"/>
<rect x="991" y="412" width="7" height="11" fill="#000"/>
<rect x="992" y="413" width="5" height="9" fill="#f23645"/>
<rect x="1005" y="387" width="1" height="8" fill="#000"/>
<rect x="1005" y="422" width="1" height="16" fill="#000"/>
<rect x="1002" y="395" width="7" height="28" fill="#000"/>
<rect x="1003" y="396" width="5" height="26" fill="#4caf50"/>
<rect x="1016" y="372" width="1" height="5" fill="#000"/>
<rect x="1016" y="395" width="1" height="16" fill="#000"/>
<rect x="1013" y="377" width="7" height="19" fill="#000"/>
<rect x="1014" y="378" width="5" height="17" fill="#4caf50"/>
<rect x="1026" y="361" width="1" height="16" fill="#b8b8bc"/>
<rect x="1026" y="391" width="1" height="11" fill="#b8b8bc"/>
<rect x="1023" y="377" width="7" height="15" fill="#000"/>
<rect x="1024" y="378" width="5" height="13" fill="#f23645"/>
<rect x="1037" y="376" width="1" height="15" fill="#b8b8bc"/>
<rect x="1037" y="409" width="1" height="14" fill="#b8b8bc"/>
<rect x="1034" y="391" width="7" height="19" fill="#000"/>
<rect x="1035" y="392" width="5" height="17" fill="#f23645"/>
<rect x="1048" y="385" width="1" height="8" fill="#000"/>
<rect x="1048" y="409" width="1" height="51" fill="#000"/>
<rect x="1045" y="393" width="7" height="17" fill="#000"/>
<rect x="1046" y="394" width="5" height="15" fill="#4caf50"/>
<rect x="1059" y="388" width="1" height="5" fill="#b8b8bc"/>
<rect x="1059" y="418" width="1" height="20" fill="#b8b8bc"/>
<rect x="1056" y="393" width="7" height="26" fill="#000"/>
<rect x="1057" y="394" width="5" height="24" fill="#f23645"/>
<rect x="1070" y="384" width="1" height="5" fill="#000"/>
<rect x="1070" y="418" width="1" height="5" fill="#000"/>
<rect x="1067" y="389" width="7" height="30" fill="#000"/>
<rect x="1068" y="390" width="5" height="28" fill="#4caf50"/>
<rect x="1081" y="378" width="1" height="11" fill="#b8b8bc"/>
<rect x="1081" y="399" width="1" height="8" fill="#b8b8bc"/>
<rect x="1078" y="389" width="7" height="11" fill="#000"/>
<rect x="1079" y="390" width="5" height="9" fill="#f23645"/>
<rect x="1092" y="391" width="1" height="8" fill="#b8b8bc"/>
<rect x="1092" y="412" width="1" height="20" fill="#b8b8bc"/>
<rect x="1089" y="399" width="7" height="14" fill="#000"/>
<rect x="1090" y="400" width="5" height="12" fill="#f23645"/>
<rect x="1103" y="366" width="1" height="2" fill="#000"/>
<rect x="1103" y="412" width="1" height="3" fill="#000"/>
<rect x="1100" y="368" width="7" height="45" fill="#000"/>
<rect x="1101" y="369" width="5" height="43" fill="#4caf50"/>
<rect x="1114" y="350" width="1" height="18" fill="#b8b8bc"/>
<rect x="1114" y="430" width="1" height="15" fill="#b8b8bc"/>
<rect x="1111" y="368" width="7" height="63" fill="#000"/>
<rect x="1112" y="369" width="5" height="61" fill="#f23645"/>
<rect x="1125" y="386" width="1" height="6" fill="#000"/>
<rect x="1125" y="430" width="1" height="5" fill="#000"/>
<rect x="1122" y="392" width="7" height="39" fill="#000"/>
<rect x="1123" y="393" width="5" height="37" fill="#4caf50"/>
<rect x="1136" y="387" width="1" height="5" fill="#b8b8bc"/>
<rect x="1136" y="410" width="1" height="17" fill="#b8b8bc"/>
<rect x="1133" y="392" width="7" height="19" fill="#000"/>
<rect x="1134" y="393" width="5" height="17" fill="#f23645"/>
<rect x="1147" y="375" width="1" height="34" fill="#000"/>
<rect x="1147" y="410" width="1" height="4" fill="#000"/>
<rect x="1144" y="409" width="7" height="2" fill="#000"/>
<rect x="1158" y="405" width="1" height="4" fill="#b8b8bc"/>
<rect x="1158" y="430" width="1" height="11" fill="#b8b8bc"/>
<rect x="1155" y="409" width="7" height="22" fill="#000"/>
<rect x="1156" y="410" width="5" height="20" fill="#f23645"/>
<rect x="1169" y="409" width="1" height="17" fill="#000"/>
<rect x="1169" y="430" width="1" height="7" fill="#000"/>
<rect x="1166" y="426" width="7" height="5" fill="#000"/>
<rect x="1167" y="427" width="5" height="3" fill="#4caf50"/>
<rect x="1180" y="410" width="1" height="9" fill="#000"/>
<rect x="1180" y="426" width="1" height="10" fill="#000"/>
<rect x="1177" y="419" width="7" height="8" fill="#000"/>
<rect x="1178" y="420" width="5" height="6" fill="#4caf50"/>
<rect x="1191" y="343" width="1" height="26" fill="#000"/>
<rect x="1191" y="419" width="1" height="6" fill="#000"/>
<rect x="1188" y="369" width="7" height="51" fill="#000"/>
<rect x="1189" y="370" width="5" height="49" fill="#4caf50"/>
<rect x="1202" y="334" width="1" height="35" fill="#b8b8bc"/>
<rect x="1202" y="379" width="1" height="10" fill="#b8b8bc"/>
<rect x="1199" y="369" width="7" height="11" fill="#000"/>
<rect x="1200" y="370" width="5" height="9" fill="#f23645"/>
<rect x="1213" y="350" width="1" height="12" fill="#000"/>
<rect x="1213" y="379" width="1" height="13" fill="#000"/>
<rect x="1210" y="362" width="7" height="18" fill="#000"/>
<rect x="1211" y="363" width="5" height="16" fill="#4caf50"/>
<rect x="1224" y="359" width="1" height="3" fill="#b8b8bc"/>
<rect x="1224" y="408" width="1" height="26" fill="#b8b8bc"/>
<rect x="1221" y="362" width="7" height="47" fill="#000"/>
<rect x="1222" y="363" width="5" height="45" fill="#f23645"/>
<rect x="1234" y="358" width="1" height="47" fill="#000"/>
<rect x="1234" y="408" width="1" height="4" fill="#000"/>
<rect x="1231" y="405" width="7" height="4" fill="#000"/>
<rect x="1232" y="406" width="5" height="2" fill="#4caf50"/>
<rect x="1245" y="402" width="1" height="3" fill="#b8b8bc"/>
<rect x="1245" y="409" width="1" height="47" fill="#b8b8bc"/>
<rect x="1242" y="405" width="7" height="5" fill="#000"/>
<rect x="1243" y="406" width="5" height="3" fill="#f23645"/>
<rect x="1256" y="399" width="1" height="8" fill="#000"/>
<rect x="1256" y="409" width="1" height="13" fill="#000"/>
<rect x="1253" y="407" width="7" height="3" fill="#000"/>
<rect x="1254" y="408" width="5" height="1" fill="#4caf50"/>
<rect x="1267" y="375" width="1" height="32" fill="#b8b8bc"/>
<rect x="1267" y="418" width="1" height="9" fill="#b8b8bc"/>
<rect x="1264" y="407" width="7" height="12" fill="#000"/>
<rect x="1265" y="408" width="5" height="10" fill="#f23645"/>
<rect x="1278" y="380" width="1" height="16" fill="#000"/>
<rect x="1278" y="418" width="1" height="3" fill="#000"/>
<rect x="1275" y="396" width="7" height="23" fill="#000"/>
<rect x="1276" y="397" width="5" height="21" fill="#4caf50"/>
<rect x="1289" y="392" width="1" height="4" fill="#b8b8bc"/>
<rect x="1289" y="409" width="1" height="8" fill="#b8b8bc"/>
<rect x="1286" y="396" width="7" height="14" fill="#000"/>
<rect x="1287" y="397" width="5" height="12" fill="#f23645"/>
<rect x="1300" y="403" width="1" height="6" fill="#b8b8bc"/>
<rect x="1300" y="450" width="1" height="8" fill="#b8b8bc"/>
<rect x="1297" y="409" width="7" height="42" fill="#000"/>
<rect x="1298" y="410" width="5" height="40" fill="#f23645"/>
<rect x="1311" y="424" width="1" height="4" fill="#000"/>
<rect x="1311" y="450" width="1" height="42" fill="#000"/>
<rect x="1308" y="428" width="7" height="23" fill="#000"/>
<rect x="1309" y="429" width="5" height="21" fill="#4caf50"/>
<rect x="1322" y="372" width="1" height="13" fill="#000"/>
<rect x="1322" y="428" width="1" height="8" fill="#000"/>
<rect x="1319" y="385" width="7" height="44" fill="#000"/>
<rect x="1320" y="386" width="5" height="42" fill="#4caf50"/>
<rect x="1333" y="371" width="1" height="14" fill="#b8b8bc"/>
<rect x="1333" y="385" width="1" height="33" fill="#b8b8bc"/>
<rect x="1330" y="385" width="7" height="1" fill="#000"/>
<rect x="1344" y="367" width="1" height="18" fill="#b8b8bc"/>
<rect x="1344" y="396" width="1" height="1" fill="#b8b8bc"/>
<rect x="1341" y="385" width="7" height="12" fill="#000"/>
<rect x="1342" y="386" width="5" height="10" fill="#f23645"/>
<rect x="1355" y="386" width="1" height="10" fill="#b8b8bc"/>
<rect x="1355" y="399" width="1" height="8" fill="#b8b8bc"/>
<rect x="1352" y="396" width="7" height="4" fill="#000"/>
<rect x="1353" y="397" width="5" height="2" fill="#f23645"/>
<rect x="1366" y="399" width="1" height="5" fill="#000"/>
<rect x="1363" y="344" width="7" height="56" fill="#000"/>
<rect x="1364" y="345" width="5" height="54" fill="#4caf50"/>
<rect x="1377" y="300" width="1" height="5" fill="#000"/>
<rect x="1377" y="344" width="1" height="15" fill="#000"/>
<rect x="1374" y="305" width="7" height="40" fill="#000"/>
<rect x="1375" y="306" width="5" height="38" fill="#4caf50"/>
<rect x="1388" y="299" width="1" height="6" fill="#b8b8bc"/>
<rect x="1388" y="318" width="1" height="6" fill="#b8b8bc"/>
<rect x="1385" y="305" width="7" height="14" fill="#000"/>
<rect x="1386" y="306" width="5" height="12" fill="#f23645"/>
<rect x="1399" y="357" width="1" height="6" fill="#b8b8bc"/>
<rect x="1396" y="318" width="7" height="40" fill="#000"/>
<rect x="1397" y="319" width="5" height="38" fill="#f23645"/>
<rect x="1410" y="347" width="1" height="10" fill="#b8b8bc"/>
<rect x="1410" y="389" width="1" height="9" fill="#b8b8bc"/>
<rect x="1407" y="357" width="7" height="33" fill="#000"/>
<rect x="1408" y="358" width="5" height="31" fill="#f23645"/>
<rect x="1421" y="374" width="1" height="15" fill="#b8b8bc"/>
<rect x="1421" y="424" width="1" height="20" fill="#b8b8bc"/>
<rect x="1418" y="389" width="7" height="36" fill="#000"/>
<rect x="1419" y="390" width="5" height="34" fill="#f23645"/>
<rect x="1431" y="404" width="1" height="12" fill="#000"/>
<rect x="1431" y="424" width="1" height="20" fill="#000"/>
<rect x="1428" y="416" width="7" height="9" fill="#000"/>
<rect x="1429" y="417" width="5" height="7" fill="#4caf50"/>
<rect x="1442" y="391" width="1" height="16" fill="#000"/>
<rect x="1442" y="416" width="1" height="6" fill="#000"/>
<rect x="1439" y="407" width="7" height="10" fill="#000"/>
<rect x="1440" y="408" width="5" height="8" fill="#4caf50"/>
<rect x="1453" y="276" width="1" height="6" fill="#000"/>
<rect x="1450" y="282" width="7" height="126" fill="#000"/>
<rect x="1451" y="283" width="5" height="124" fill="#4caf50"/>
<rect x="1464" y="209" width="1" height="5" fill="#000"/>
<rect x="1464" y="282" width="1" height="5" fill="#000"/>
<rect x="1461" y="214" width="7" height="69" fill="#000"/>
<rect x="1462" y="215" width="5" height="67" fill="#4caf50"/>
<rect x="1475" y="168" width="1" height="13" fill="#000"/>
<rect x="1475" y="214" width="1" height="8" fill="#000"/>
<rect x="1472" y="181" width="7" height="34" fill="#000"/>
<rect x="1473" y="182" width="5" height="32" fill="#4caf50"/>
<rect x="1486" y="158" width="1" height="6" fill="#000"/>
<rect x="1486" y="181" width="1" height="25" fill="#000"/>
<rect x="1483" y="164" width="7" height="18" fill="#000"/>
<rect x="1484" y="165" width="5" height="16" fill="#4caf50"/>
<rect x="1497" y="156" width="1" height="8" fill="#b8b8bc"/>
<rect x="1494" y="164" width="7" height="83" fill="#000"/>
<rect x="1495" y="165" width="5" height="81" fill="#f23645"/>
<rect x="1508" y="191" width="1" height="9" fill="#000"/>
<rect x="1505" y="200" width="7" height="47" fill="#000"/>
<rect x="1506" y="201" width="5" height="45" fill="#4caf50"/>
<rect x="1519" y="186" width="1" height="14" fill="#b8b8bc"/>
<rect x="1519" y="218" width="1" height="10" fill="#b8b8bc"/>
<rect x="1516" y="200" width="7" height="19" fill="#000"/>
<rect x="1517" y="201" width="5" height="17" fill="#f23645"/>
<rect x="1530" y="216" width="1" height="2" fill="#b8b8bc"/>
<rect x="1530" y="252" width="1" height="5" fill="#b8b8bc"/>
<rect x="1527" y="218" width="7" height="35" fill="#000"/>
<rect x="1528" y="219" width="5" height="33" fill="#f23645"/>
<rect x="1541" y="237" width="1" height="15" fill="#b8b8bc"/>
<rect x="1541" y="279" width="1" height="9" fill="#b8b8bc"/>
<rect x="1538" y="252" width="7" height="28" fill="#000"/>
<rect x="1539" y="253" width="5" height="26" fill="#f23645"/>
<rect x="1552" y="269" width="1" height="3" fill="#000"/>
<rect x="1552" y="279" width="1" height="45" fill="#000"/>
<rect x="1549" y="272" width="7" height="8" fill="#000"/>
<rect x="1550" y="273" width="5" height="6" fill="#4caf50"/>
<rect x="1563" y="245" width="1" height="21" fill="#000"/>
<rect x="1563" y="272" width="1" height="13" fill="#000"/>
<rect x="1560" y="266" width="7" height="7" fill="#000"/>
<rect x="1561" y="267" width="5" height="5" fill="#4caf50"/>
<rect x="1574" y="203" width="1" height="12" fill="#000"/>
<rect x="1574" y="266" width="1" height="11" fill="#000"/>
<rect x="1571" y="215" width="7" height="52" fill="#000"/>
<rect x="1572" y="216" width="5" height="50" fill="#4caf50"/>
<rect x="1585" y="209" width="1" height="3" fill="#000"/>
<rect x="1585" y="215" width="1" height="18" fill="#000"/>
<rect x="1582" y="212" width="7" height="4" fill="#000"/>
<rect x="1583" y="213" width="5" height="2" fill="#4caf50"/>
<rect x="1596" y="176" width="1" height="11" fill="#000"/>
<rect x="1596" y="212" width="1" height="6" fill="#000"/>
<rect x="1593" y="187" width="7" height="26" fill="#000"/>
<rect x="1594" y="188" width="5" height="24" fill="#4caf50"/>
<rect x="1607" y="165" width="1" height="9" fill="#000"/>
<rect x="1607" y="187" width="1" height="12" fill="#000"/>
<rect x="1604" y="174" width="7" height="14" fill="#000"/>
<rect x="1605" y="175" width="5" height="12" fill="#4caf50"/>
<rect x="1618" y="157" width="1" height="16" fill="#000"/>
<rect x="1618" y="173" width="1" height="13" fill="#000"/>
<rect x="1615" y="173" width="7" height="1" fill="#000"/>
<rect x="1628" y="206" width="1" height="15" fill="#b8b8bc"/>
<rect x="1625" y="174" width="7" height="33" fill="#000"/>
<rect x="1626" y="175" width="5" height="31" fill="#f23645"/>
<rect x="1639" y="165" width="1" height="14" fill="#000"/>
<rect x="1639" y="206" width="1" height="25" fill="#000"/>
<rect x="1636" y="179" width="7" height="28" fill="#000"/>
<rect x="1637" y="180" width="5" height="26" fill="#4caf50"/>
<rect x="1650" y="162" width="1" height="3" fill="#000"/>
<rect x="1650" y="179" width="1" height="25" fill="#000"/>
<rect x="1647" y="165" width="7" height="15" fill="#000"/>
<rect x="1648" y="166" width="5" height="13" fill="#4caf50"/>
</g>
</g>
<text x="1647" y="750.3" font-family='"Liberation Sans", sans-serif' font-size="11.5" fill="#131722" textLength="109" lengthAdjust="spacingAndGlyphs">September 2024 low</text>
<text x="1772.7" y="775.8" font-family='"Liberation Sans", sans-serif' font-size="11.6" font-weight="400" fill="#131722" textLength="41" lengthAdjust="spacingAndGlyphs">139.000</text>
<text x="1772.7" y="732.7" font-family='"Liberation Sans", sans-serif' font-size="11.6" font-weight="400" fill="#131722" textLength="41" lengthAdjust="spacingAndGlyphs">140.000</text>
<text x="1772.7" y="689.5" font-family='"Liberation Sans", sans-serif' font-size="11.6" font-weight="400" fill="#131722" textLength="41" lengthAdjust="spacingAndGlyphs">141.000</text>
<text x="1772.7" y="646.4" font-family='"Liberation Sans", sans-serif' font-size="11.6" font-weight="400" fill="#131722" textLength="41" lengthAdjust="spacingAndGlyphs">142.000</text>
<text x="1772.7" y="603.3" font-family='"Liberation Sans", sans-serif' font-size="11.6" font-weight="400" fill="#131722" textLength="41" lengthAdjust="spacingAndGlyphs">143.000</text>
<text x="1772.7" y="560.2" font-family='"Liberation Sans", sans-serif' font-size="11.6" font-weight="400" fill="#131722" textLength="41" lengthAdjust="spacingAndGlyphs">144.000</text>
<text x="1772.7" y="517.0" font-family='"Liberation Sans", sans-serif' font-size="11.6" font-weight="400" fill="#131722" textLength="41" lengthAdjust="spacingAndGlyphs">145.000</text>
<text x="1772.7" y="473.9" font-family='"Liberation Sans", sans-serif' font-size="11.6" font-weight="400" fill="#131722" textLength="41" lengthAdjust="spacingAndGlyphs">146.000</text>
<text x="1772.7" y="430.8" font-family='"Liberation Sans", sans-serif' font-size="11.6" font-weight="400" fill="#131722" textLength="41" lengthAdjust="spacingAndGlyphs">147.000</text>
<text x="1772.7" y="387.7" font-family='"Liberation Sans", sans-serif' font-size="11.6" font-weight="400" fill="#131722" textLength="41" lengthAdjust="spacingAndGlyphs">148.000</text>
<text x="1772.7" y="344.5" font-family='"Liberation Sans", sans-serif' font-size="11.6" font-weight="400" fill="#131722" textLength="41" lengthAdjust="spacingAndGlyphs">149.000</text>
<text x="1772.7" y="301.4" font-family='"Liberation Sans", sans-serif' font-size="11.6" font-weight="400" fill="#131722" textLength="41" lengthAdjust="spacingAndGlyphs">150.000</text>
<text x="1772.7" y="258.3" font-family='"Liberation Sans", sans-serif' font-size="11.6" font-weight="400" fill="#131722" textLength="41" lengthAdjust="spacingAndGlyphs">151.000</text>
<text x="1772.7" y="215.2" font-family='"Liberation Sans", sans-serif' font-size="11.6" font-weight="400" fill="#131722" textLength="41" lengthAdjust="spacingAndGlyphs">152.000</text>
<text x="1772.7" y="172.0" font-family='"Liberation Sans", sans-serif' font-size="11.6" font-weight="400" fill="#131722" textLength="41" lengthAdjust="spacingAndGlyphs">153.000</text>
<text x="1772.7" y="128.9" font-family='"Liberation Sans", sans-serif' font-size="11.6" font-weight="400" fill="#131722" textLength="41" lengthAdjust="spacingAndGlyphs">154.000</text>
<text x="1772.7" y="85.8" font-family='"Liberation Sans", sans-serif' font-size="11.6" font-weight="400" fill="#131722" textLength="41" lengthAdjust="spacingAndGlyphs">155.000</text>
<text x="1772.7" y="42.7" font-family='"Liberation Sans", sans-serif' font-size="11.6" font-weight="400" fill="#131722" textLength="41" lengthAdjust="spacingAndGlyphs">156.000</text>
<rect x="1764" y="82.1" width="56" height="16.9" rx="2" ry="2" fill="#000"/>
<text x="1772.7" y="94.3" font-family='"Liberation Sans", sans-serif' font-size="11.6" font-weight="400" fill="#fff" textLength="41" lengthAdjust="spacingAndGlyphs" stroke="#fff" stroke-width="0.35">154.800</text>
<rect x="1764" y="140.1" width="56" height="16.9" rx="2" ry="2" fill="#000"/>
<text x="1772.7" y="152.3" font-family='"Liberation Sans", sans-serif' font-size="11.6" font-weight="400" fill="#fff" textLength="41" lengthAdjust="spacingAndGlyphs" stroke="#fff" stroke-width="0.35">153.280</text>
<rect x="1764" y="157.1" width="56" height="16.9" rx="2" ry="2" fill="#4caf50"/>
<text x="1772.7" y="169.3" font-family='"Liberation Sans", sans-serif' font-size="11.6" font-weight="400" fill="#fff" textLength="41" lengthAdjust="spacingAndGlyphs" stroke="#fff" stroke-width="0.35">153.072</text>
<rect x="1764" y="246.1" width="56" height="16.9" rx="2" ry="2" fill="#000"/>
<text x="1772.7" y="258.3" font-family='"Liberation Sans", sans-serif' font-size="11.6" font-weight="400" fill="#fff" textLength="41" lengthAdjust="spacingAndGlyphs" stroke="#fff" stroke-width="0.35">151.000</text>
<rect x="1764" y="315.1" width="56" height="16.9" rx="2" ry="2" fill="#000"/>
<text x="1772.7" y="327.3" font-family='"Liberation Sans", sans-serif' font-size="11.6" font-weight="400" fill="#fff" textLength="41" lengthAdjust="spacingAndGlyphs" stroke="#fff" stroke-width="0.35">149.410</text>
<rect x="1764" y="332.1" width="56" height="16.9" rx="2" ry="2" fill="#4a7dff"/>
<text x="1772.7" y="344.3" font-family='"Liberation Sans", sans-serif' font-size="11.6" font-weight="400" fill="#fff" textLength="41" lengthAdjust="spacingAndGlyphs" stroke="#fff" stroke-width="0.35">149.303</text>
<rect x="1764" y="349.1" width="56" height="16.9" rx="2" ry="2" fill="#000"/>
<text x="1772.7" y="361.3" font-family='"Liberation Sans", sans-serif' font-size="11.6" font-weight="400" fill="#fff" textLength="41" lengthAdjust="spacingAndGlyphs" stroke="#fff" stroke-width="0.35">149.000</text>
<rect x="1764" y="386.1" width="56" height="16.9" rx="2" ry="2" fill="#f23645"/>
<text x="1772.7" y="398.3" font-family='"Liberation Sans", sans-serif' font-size="11.6" font-weight="400" fill="#fff" textLength="41" lengthAdjust="spacingAndGlyphs" stroke="#fff" stroke-width="0.35">147.754</text>
<rect x="1764" y="466.1" width="56" height="16.9" rx="2" ry="2" fill="#000"/>
<text x="1772.7" y="478.3" font-family='"Liberation Sans", sans-serif' font-size="11.6" font-weight="400" fill="#fff" textLength="41" lengthAdjust="spacingAndGlyphs" stroke="#fff" stroke-width="0.35">145.900</text>
<rect x="1764" y="531.1" width="56" height="16.9" rx="2" ry="2" fill="#000"/>
<text x="1772.7" y="543.3" font-family='"Liberation Sans", sans-serif' font-size="11.6" font-weight="400" fill="#fff" textLength="41" lengthAdjust="spacingAndGlyphs" stroke="#fff" stroke-width="0.35">144.400</text>
<rect x="1764" y="616.1" width="56" height="16.9" rx="2" ry="2" fill="#000"/>
<text x="1772.7" y="628.3" font-family='"Liberation Sans", sans-serif' font-size="11.6" font-weight="400" fill="#fff" textLength="41" lengthAdjust="spacingAndGlyphs" stroke="#fff" stroke-width="0.35">142.420</text>
<rect x="1764" y="649.1" width="56" height="16.9" rx="2" ry="2" fill="#000"/>
<text x="1772.7" y="661.3" font-family='"Liberation Sans", sans-serif' font-size="11.6" font-weight="400" fill="#fff" textLength="41" lengthAdjust="spacingAndGlyphs" stroke="#fff" stroke-width="0.35">141.650</text>
<rect x="1764" y="738.1" width="56" height="16.9" rx="2" ry="2" fill="#000"/>
<text x="1772.7" y="750.3" font-family='"Liberation Sans", sans-serif' font-size="11.6" font-weight="400" fill="#fff" textLength="41" lengthAdjust="spacingAndGlyphs" stroke="#fff" stroke-width="0.35">139.600</text>
<rect x="1764" y="792.8" width="56" height="16.9" rx="2" ry="2" fill="#000"/>
<text x="1772.7" y="805.0" font-family='"Liberation Sans", sans-serif' font-size="11.6" font-weight="400" fill="#fff" textLength="41" lengthAdjust="spacingAndGlyphs" stroke="#fff" stroke-width="0.35">138.000</text>
<g clip-path="url(#cpRsi)">
<path d="M10 826.5H1763" stroke="#6c6f7a" stroke-width="1" stroke-dasharray="5 6" shape-rendering="crispEdges"/>
<path d="M10 912.5H1763" stroke="#6c6f7a" stroke-width="1" stroke-dasharray="5 6" shape-rendering="crispEdges"/>
<path d="M10 869.5H1763" stroke="#c6c0c4" stroke-width="1" stroke-dasharray="5 6" shape-rendering="crispEdges"/>
<path d="M10.0 905.8L20.5 894.7L30.5 884.5L41.5 896.0L52.5 880.2L63.5 902.0L74.5 906.5L85.5 909.0L96.5 906.5L107.5 913.3L118.5 907.3L129.5 908.5L140.5 915.5L151.5 906.5L162.5 887.0L173.5 892.5L184.5 882.2L195.5 893.5L206.5 890.5L217.5 883.2L227.5 863.7L238.5 867.7L249.5 876.9L260.5 885.5L271.5 873.9L282.5 859.4L293.5 863.4L304.5 845.6L315.5 853.1L326.5 858.9L337.5 866.2L348.5 866.4L359.5 872.2L370.5 874.4L381.5 880.5L392.5 877.7L403.5 887.7L414.5 885.5L425.5 871.9L435.5 867.7L446.5 872.7L457.5 874.2L468.5 885.2L479.5 873.4L490.5 882.5L501.5 875.9L512.5 864.4L523.5 866.7L534.5 864.2L545.5 867.4L556.5 877.2L567.5 870.7L578.5 864.7L589.5 859.6L600.5 861.4L611.5 858.1L622.5 851.9L632.5 851.4L643.5 866.7L654.5 863.7L665.5 873.2L676.5 870.2L687.5 877.2L698.5 884.5L709.5 881.0L720.5 864.7L731.5 868.9L742.5 852.6L753.5 847.4L764.5 851.1L775.5 852.6L786.5 840.6L797.5 838.1L808.5 828.6L819.5 843.9L829.5 837.6L840.5 836.3L851.5 855.9L862.5 865.2L873.5 866.7L884.5 860.2L895.5 852.9L906.5 845.4L917.5 846.4L928.5 836.3L939.5 826.8L950.5 867.2L961.5 870.2L972.5 865.2L983.5 867.7L994.5 870.2L1005.5 863.4L1016.5 859.6L1026.5 863.9L1037.5 868.4L1048.5 864.2L1059.5 871.4L1070.5 862.9L1081.5 865.9L1092.5 870.4L1103.5 857.6L1114.5 875.2L1125.5 865.2L1136.5 869.9L1147.5 869.9L1158.5 875.9L1169.5 874.2L1180.5 872.2L1191.5 856.9L1202.5 860.2L1213.5 855.1L1224.5 870.9L1234.5 869.9L1245.5 871.4L1256.5 870.4L1267.5 874.4L1278.5 865.9L1289.5 871.4L1300.5 885.2L1311.5 875.9L1322.5 860.7L1333.5 861.2L1344.5 865.2L1355.5 866.9L1366.5 847.6L1377.5 837.3L1388.5 843.1L1399.5 858.9L1410.5 869.7L1421.5 880.7L1431.5 877.4L1442.5 874.4L1453.5 840.6L1464.5 829.3L1475.5 824.1L1486.5 821.6L1497.5 847.4L1508.5 839.6L1519.5 845.1L1530.5 853.6L1541.5 860.9L1552.5 859.1L1563.5 857.9L1574.5 846.9L1585.5 846.1L1596.5 840.9L1607.5 838.3L1618.5 838.1L1628.5 850.4L1639.5 844.1L1650.5 840.4" fill="none" stroke="#111" stroke-width="1.25" stroke-linejoin="round"/>
</g>
<text x="1772.7" y="851.8" font-family='"Liberation Sans", sans-serif' font-size="11.6" font-weight="400" fill="#131722" textLength="29" lengthAdjust="spacingAndGlyphs">60.00</text>
<text x="1772.7" y="894.8" font-family='"Liberation Sans", sans-serif' font-size="11.6" font-weight="400" fill="#131722" textLength="29" lengthAdjust="spacingAndGlyphs">40.00</text>
<rect x="1764" y="833.6" width="43" height="16.9" rx="2" ry="2" fill="#000"/>
<text x="1772.7" y="845.8" font-family='"Liberation Sans", sans-serif' font-size="11.6" font-weight="400" fill="#fff" textLength="29" lengthAdjust="spacingAndGlyphs" stroke="#fff" stroke-width="0.35">63.11</text>
<g clip-path="url(#cpMacd)">
<path d="M10 1029.5H1763" stroke="#c6c0c4" stroke-width="1" stroke-dasharray="5 6" shape-rendering="crispEdges"/>
<path d="M362.0 1038.5L370.4 1035.6L381.5 1034.6L392.5 1036.0L400.0 1038.5" fill="none" stroke="#bdb5b8" stroke-width="1.1"/>
<path d="M303.3 1037.6L315.3 1018.0L326.3 1008.8L337.3 1008.8L348.4 1009.3L359.4 1015.0L370.4 1021.8L381.5 1033.0L389.7 1039.0" fill="none" stroke="#111" stroke-width="1.25" stroke-linejoin="round"/>
<path d="M599.0 1040.0L611.5 1034.3L622.5 1029.3L632.5 1024.3L643.5 1020.6L654.5 1017.5L665.5 1016.5L676.5 1016.0L687.5 1017.3L698.5 1020.6L709.5 1023.8L720.5 1025.6L731.5 1027.3L742.5 1026.3L753.5 1022.6L764.5 1018.8L775.5 1015.0L786.5 1010.0L797.5 1003.5L808.5 995.0L819.5 987.5L829.5 980.5L840.5 974.2L851.5 969.9L862.5 968.4L873.5 968.7L884.5 970.4L895.5 971.7L906.5 970.4L917.5 970.4L928.5 967.9L939.5 963.7L950.5 963.2L961.5 964.4L972.5 967.4L983.5 970.9L994.5 974.9L1005.5 979.2L1016.5 982.5L1026.5 986.0L1037.5 989.2L1048.5 992.5L1059.5 995.7L1070.5 998.2L1081.5 1001.3L1092.5 1003.5L1103.5 1005.0L1114.5 1007.5L1125.5 1009.5L1136.5 1011.8L1147.5 1013.8L1158.5 1016.8L1169.5 1019.3L1180.5 1021.0L1191.5 1021.8L1202.5 1021.8L1213.5 1020.6L1224.5 1020.0L1234.5 1020.6L1245.5 1021.0L1256.5 1021.8L1267.5 1023.0L1278.5 1023.6L1289.5 1025.0L1300.5 1027.3L1311.5 1029.3L1322.5 1030.0L1333.5 1028.6L1344.5 1028.6L1355.5 1028.6L1366.5 1025.6L1377.5 1021.0L1388.5 1016.8L1399.5 1013.3L1410.5 1011.8L1421.5 1012.3L1431.5 1014.3L1442.5 1015.5L1453.5 1014.3L1464.5 1008.0L1475.5 999.2L1486.5 989.2L1497.5 980.0L1508.5 970.9L1519.5 963.4L1530.5 958.9L1541.5 957.4L1552.5 957.4L1563.5 957.9L1574.5 957.9L1585.5 957.4L1596.5 955.9L1607.5 954.1L1618.5 952.4L1628.5 951.4L1639.5 950.6L1650.5 949.6" fill="none" stroke="#bdb5b8" stroke-width="1.1" stroke-linejoin="round"/>
<path d="M574.0 1040.0L589.5 1029.3L600.5 1024.3L611.5 1019.0L622.5 1011.0L632.5 1003.3L643.5 1006.0L654.5 1006.8L665.5 1012.5L676.5 1015.5L687.5 1021.8L698.5 1031.3L709.5 1037.1L720.5 1033.6L731.5 1032.8L742.5 1021.8L753.5 1011.0L764.5 1004.3L775.5 999.7L786.5 989.2L797.5 978.7L808.5 964.2L819.5 959.9L829.5 952.9L840.5 946.6L851.5 951.9L862.5 961.7L873.5 970.9L884.5 975.4L895.5 975.4L906.5 970.9L917.5 967.9L928.5 959.9L939.5 946.6L950.5 958.6L961.5 970.4L972.5 977.9L983.5 985.5L994.5 992.5L1005.5 995.0L1016.5 994.7L1026.5 998.0L1037.5 1002.0L1048.5 1004.0L1059.5 1009.0L1070.5 1009.3L1081.5 1011.3L1092.5 1014.5L1103.5 1011.3L1114.5 1017.3L1125.5 1017.3L1136.5 1019.8L1147.5 1022.0L1158.5 1026.8L1169.5 1029.8L1180.5 1031.0L1191.5 1024.3L1202.5 1021.0L1213.5 1016.0L1224.5 1019.3L1234.5 1021.3L1245.5 1023.6L1256.5 1025.0L1267.5 1027.6L1278.5 1026.8L1289.5 1028.0L1300.5 1035.0L1311.5 1036.8L1322.5 1031.8L1333.5 1028.0L1344.5 1027.0L1355.5 1026.3L1366.5 1017.5L1377.5 1006.0L1388.5 998.5L1399.5 998.7L1410.5 1003.8L1421.5 1013.0L1431.5 1020.0L1442.5 1023.6L1453.5 1008.5L1464.5 986.7L1475.5 965.4L1486.5 946.1L1497.5 944.6L1508.5 937.3L1519.5 935.3L1530.5 940.9L1541.5 949.1L1552.5 955.9L1563.5 960.4L1574.5 958.4L1585.5 956.4L1596.5 951.9L1607.5 947.4L1618.5 944.6L1628.5 948.6L1639.5 948.6L1650.5 947.1" fill="none" stroke="#111" stroke-width="1.25" stroke-linejoin="round"/>
</g>
<text x="1772.7" y="951.8" font-family='"Liberation Sans", sans-serif' font-size="11.6" font-weight="400" fill="#131722" textLength="29" lengthAdjust="spacingAndGlyphs">1.000</text>
<text x="1772.7" y="992.6" font-family='"Liberation Sans", sans-serif' font-size="11.6" font-weight="400" fill="#131722" textLength="29" lengthAdjust="spacingAndGlyphs">0.500</text>
<text x="1772.7" y="1033.4" font-family='"Liberation Sans", sans-serif' font-size="11.6" font-weight="400" fill="#131722" textLength="29" lengthAdjust="spacingAndGlyphs">0.000</text>
<rect x="1764" y="939.6" width="43" height="16.9" rx="2" ry="2" fill="#000"/>
<text x="1772.7" y="951.8" font-family='"Liberation Sans", sans-serif' font-size="11.6" font-weight="400" fill="#fff" textLength="29" lengthAdjust="spacingAndGlyphs" stroke="#fff" stroke-width="0.35">1.018</text>
<rect x="1764" y="956.6" width="43" height="16.9" rx="2" ry="2" fill="#c5bdc0"/>
<text x="1772.7" y="968.8" font-family='"Liberation Sans", sans-serif' font-size="11.6" font-weight="400" fill="#131722" textLength="29" lengthAdjust="spacingAndGlyphs">0.979</text>
<text x="228.0" y="1056.2" text-anchor="middle" font-family='"Liberation Sans", sans-serif' font-size="11.6" fill="#131722">May</text>
<text x="468.8" y="1056.2" text-anchor="middle" font-family='"Liberation Sans", sans-serif' font-size="11.6" fill="#131722">Jun</text>
<text x="698.6" y="1056.2" text-anchor="middle" font-family='"Liberation Sans", sans-serif' font-size="11.6" fill="#131722">Jul</text>
<text x="950.4" y="1056.2" text-anchor="middle" font-family='"Liberation Sans", sans-serif' font-size="11.6" fill="#131722">Aug</text>
<text x="1180.2" y="1056.2" text-anchor="middle" font-family='"Liberation Sans", sans-serif' font-size="11.6" fill="#131722">Sep</text>
<text x="1421.0" y="1056.2" text-anchor="middle" font-family='"Liberation Sans", sans-serif' font-size="11.6" fill="#131722">Oct</text>
<text x="1672.8" y="1056.2" text-anchor="middle" font-family='"Liberation Sans", sans-serif' font-size="11.6" fill="#131722">Nov</text>
<text x="10" y="19.4" font-family='"Liberation Sans", sans-serif' font-size="11.6" font-weight="400" fill="#131722" textLength="367.7" lengthAdjust="spacingAndGlyphs" xml:space="preserve">davidscutt created with TradingView.com, Oct 29, 2025 23:47 UTC-4</text>
<text x="17.8" y="45.7" font-family='"Liberation Sans", sans-serif' font-size="11.6" font-weight="400" fill="#131722" textLength="557.2" lengthAdjust="spacingAndGlyphs" xml:space="preserve">U.S. Dollar / Japanese Yen · 1D · FOREXCOM  O152.728  H153.137  L152.165  C153.072  +0.344 (+0.23%)</text>
<text x="17.8" y="62.7" font-family='"Liberation Sans", sans-serif' font-size="11.6" font-weight="400" fill="#131722" textLength="81" lengthAdjust="spacingAndGlyphs" xml:space="preserve">SMA (50, close)</text>
<text x="107.4" y="62.7" font-family='"Liberation Sans", sans-serif' font-size="11.6" font-weight="400" fill="#2962ff" textLength="41.2" lengthAdjust="spacingAndGlyphs" xml:space="preserve">149.303</text>
<text x="17.8" y="79.6" font-family='"Liberation Sans", sans-serif' font-size="11.6" font-weight="400" fill="#131722" textLength="87.5" lengthAdjust="spacingAndGlyphs" xml:space="preserve">SMA (200, close)</text>
<text x="113.9" y="79.6" font-family='"Liberation Sans", sans-serif' font-size="11.6" font-weight="400" fill="#f23645" textLength="41.5" lengthAdjust="spacingAndGlyphs" xml:space="preserve">147.754</text>
<text x="18" y="829.2" font-family='"Liberation Sans", sans-serif' font-size="11.6" font-weight="400" fill="#131722" textLength="76" lengthAdjust="spacingAndGlyphs" xml:space="preserve">RSI (14, close)</text>
<text x="101.5" y="829.2" font-family='"Liberation Sans", sans-serif' font-size="11.6" font-weight="400" fill="#131722" textLength="29" lengthAdjust="spacingAndGlyphs" xml:space="preserve">63.11</text>
<text x="17.8" y="946.2" font-family='"Liberation Sans", sans-serif' font-size="11.6" font-weight="400" fill="#131722" textLength="111" lengthAdjust="spacingAndGlyphs" xml:space="preserve">MACD (12, 26, close)</text>
<text x="136.5" y="946.2" font-family='"Liberation Sans", sans-serif' font-size="11.6" font-weight="400" fill="#131722" textLength="29" lengthAdjust="spacingAndGlyphs" xml:space="preserve">1.018</text>
<text x="173" y="946.2" font-family='"Liberation Sans", sans-serif' font-size="11.6" font-weight="400" fill="#b8b0b3" textLength="29" lengthAdjust="spacingAndGlyphs" xml:space="preserve">0.979</text>
<g fill="#000">
<path d="M12 1088.1H23.9V1103H18V1094.1H12z"/>
<circle cx="29" cy="1091.05" r="3"/>
<path d="M35.5 1088.1H42.05L36.06 1103H29z"/>
</g>
<text x="49" y="1103" font-family='"Liberation Sans", sans-serif' font-size="20.4" font-weight="700" fill="#000" textLength="121" lengthAdjust="spacingAndGlyphs" xml:space="preserve">TradingView</text>
</svg>
</body></html>
